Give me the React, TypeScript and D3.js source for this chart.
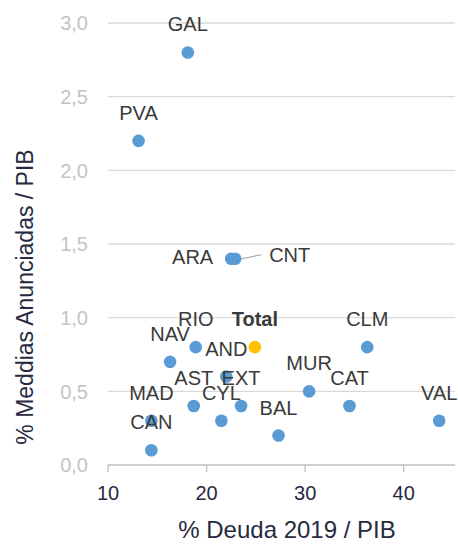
import React from 'react';
import * as d3 from 'd3';

// Regions (and the national total)
const regions = ['GAL', 'PVA', 'ARA', 'CNT', 'RIO', 'Total', 'CLM', 'NAV', 'AND', 'AST', 'EXT', 'CYL', 'MAD', 'CAN', 'BAL', 'MUR', 'CAT', 'VAL'];
// % Deuda 2019 / PIB
const deuda = [18.1, 13.1, 22.5, 22.9, 18.9, 24.9, 36.3, 16.3, 22.0, 18.7, 23.5, 21.5, 14.4, 14.4, 27.3, 30.4, 34.5, 43.6];
// % Medidas anunciadas / PIB
const medidas = [2.8, 2.2, 1.4, 1.4, 0.8, 0.8, 0.8, 0.7, 0.6, 0.4, 0.4, 0.3, 0.3, 0.1, 0.2, 0.5, 0.4, 0.3];

const xTicks = [10, 20, 30, 40];
const yTicks = [0, 0.5, 1, 1.5, 2, 2.5, 3];

const W = 458;
const H = 547;
const FONT = 'Liberation Sans, Arial, sans-serif';

const App: React.FC = () => {
  const x = d3.scaleLinear().domain([10, 45]).range([108, 453]);
  const y = d3.scaleLinear().domain([0, 3]).range([465, 23]);
  const fmt = (v: number) => d3.format('.1f')(v).replace('.', ',');

  const points = regions.map((name, i) => ({ name, dx: deuda[i], md: medidas[i] }));

  return (
    <svg width={W} height={H} style={{ position: 'absolute', left: 0, top: 0, background: '#fff' }} fontFamily={FONT}>
      {/* gridlines */}
      {yTicks.filter((t) => t > 0).map((t) => (
        <line key={t} x1={x(10)} x2={x(45) + 2} y1={y(t)} y2={y(t)} stroke="#d9d9d9" strokeWidth={1.3} />
      ))}
      {/* x axis */}
      <line x1={x(10)} x2={x(45) + 2} y1={y(0)} y2={y(0)} stroke="#bfbfbf" strokeWidth={1.3} />
      {xTicks.map((t) => (
        <g key={t}>
          <line x1={x(t)} x2={x(t)} y1={y(0)} y2={y(0) + 7} stroke="#bfbfbf" strokeWidth={1.3} />
          <text x={x(t)} y={y(0) + 35} textAnchor="middle" fontSize={20} fill="#262a3f">{t}</text>
        </g>
      ))}
      {/* y ticks */}
      {yTicks.map((t) => (
        <text key={t} x={88} y={y(t)} dy="0.36em" textAnchor="end" fontSize={20} fill="#c4c4c4">{fmt(t)}</text>
      ))}
      {/* axis titles */}
      <text x={287} y={538} textAnchor="middle" fontSize={24} fill="#262a3f">% Deuda 2019 / PIB</text>
      <text transform={`translate(33,${297}) rotate(-90)`} textAnchor="middle" fontSize={23} fill="#262a3f">% Meddias Anunciadas / PIB</text>

      {/* leader line for CNT */}
      <path
        d={`M${x(deuda[3]) + 2},${y(medidas[3]) + 1} L${x(deuda[3]) + 26},${y(medidas[3]) - 4}`}
        stroke="#a6a6a6"
        strokeWidth={1.2}
        fill="none"
      />

      {/* points */}
      {points.map((p) => (
        <circle key={p.name} cx={x(p.dx)} cy={y(p.md)} r={6.3} fill={p.name === 'Total' ? '#ffc000' : '#5b9bd5'} />
      ))}

      {/* labels */}
      {points.map((p) => {
        const px = x(p.dx);
        const py = y(p.md);
        let lx = px;
        let ly = py - 21;
        let anchor: 'middle' | 'end' | 'start' = 'middle';
        if (p.name === 'ARA') {
          lx = px - 18;
          ly = py + 5;
          anchor = 'end';
        } else if (p.name === 'CNT') {
          lx = px + 34;
          ly = py + 3;
          anchor = 'start';
        }
        return (
          <text
            key={p.name}
            x={lx}
            y={ly}
            textAnchor={anchor}
            fontSize={20}
            fontWeight={p.name === 'Total' ? 'bold' : 'normal'}
            fill="#3a3a3a"
          >
            {p.name}
          </text>
        );
      })}
    </svg>
  );
};

export default App;
